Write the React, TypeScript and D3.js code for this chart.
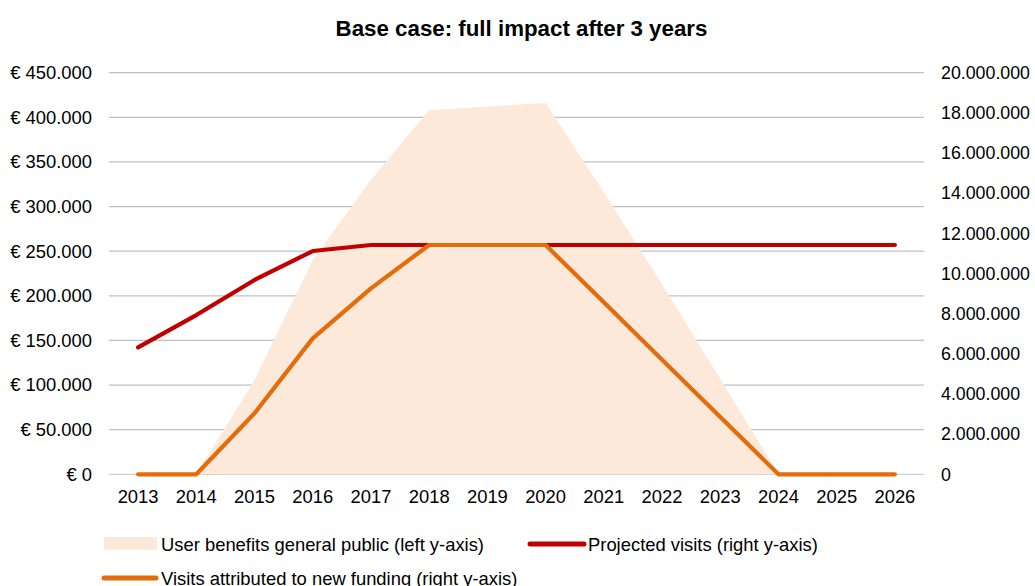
import React from "react";
import * as d3 from "d3";

const years = ["2013","2014","2015","2016","2017","2018","2019","2020","2021","2022","2023","2024","2025","2026"];
const userBenefits = [0, 0, 106000, 240000, 330000, 408000, 412000, 416000, 316000, 213000, 107000, 0, 0, 0];
const projectedVisits = [6320000, 7930000, 9680000, 11120000, 11420000, 11420000, 11420000, 11420000, 11420000, 11420000, 11420000, 11420000, 11420000, 11420000];
const attributedVisits = [0, 0, 3040000, 6770000, 9260000, 11420000, 11420000, 11420000, 8565000, 5710000, 2855000, 0, 0, 0];
const leftTicks = [0, 50000, 100000, 150000, 200000, 250000, 300000, 350000, 400000, 450000];
const rightTicks = [0, 2000000, 4000000, 6000000, 8000000, 10000000, 12000000, 14000000, 16000000, 18000000, 20000000];

const W = 1035, H = 586;
const FONT = "'Liberation Sans', Arial, sans-serif";

const fmt = (v: number) => d3.format(",")(v).replace(/,/g, ".");

export default function App() {
  const x = d3.scaleBand<string>().domain(years).range([109, 924]);
  const cx = (y: string) => (x(y) as number) + x.bandwidth() / 2;
  const yL = d3.scaleLinear().domain([0, 450000]).range([474.3, 72.7]);
  const yR = d3.scaleLinear().domain([0, 20000000]).range([474.3, 72.7]);

  const area = d3.area<number>()
    .x((_, i) => cx(years[i]))
    .y0(yL(0))
    .y1((d) => yL(d));
  const lineR = d3.line<number>()
    .x((_, i) => cx(years[i]))
    .y((d) => yR(d));

  return (
    <svg width={W} height={H} style={{ position: "absolute", left: 0, top: 0 }} fontFamily={FONT}>
      <rect width={W} height={H} fill="#ffffff" />
      <text x={521.5} y={35.5} textAnchor="middle" fontWeight="bold" fontSize={22.3} fill="#000">
        Base case: full impact after 3 years
      </text>
      {leftTicks.map((t) => (
        <g key={"l" + t}>
          <line x1={109} x2={924} y1={yL(t)} y2={yL(t)} stroke={t === 0 ? "#D0D0D0" : "#C0C0C0"} strokeWidth={1.3} />
          <text x={92} y={yL(t)} dy="0.35em" textAnchor="end" fontSize={18.4} fill="#000">
            {"€ " + fmt(t)}
          </text>
        </g>
      ))}
      {rightTicks.map((t) => (
        <text key={"r" + t} x={941} y={yR(t)} dy="0.35em" textAnchor="start" fontSize={17.8} fill="#000">
          {fmt(t)}
        </text>
      ))}
      {years.map((yr) => (
        <text key={yr} x={cx(yr)} y={503} textAnchor="middle" fontSize={18.4} fill="#000">
          {yr}
        </text>
      ))}
      <path d={area(userBenefits) as string} fill="#FDE9DA" />
      <path d={lineR(projectedVisits) as string} fill="none" stroke="#C00000" strokeWidth={4.2} strokeLinecap="round" strokeLinejoin="round" />
      <path d={lineR(attributedVisits) as string} fill="none" stroke="#E46C0A" strokeWidth={4.2} strokeLinecap="round" strokeLinejoin="round" />

      <g fontSize={18.4} fill="#000">
        <rect x={104} y={537} width={53} height={13} fill="#FDE9DA" />
        <text x={161} y={551}>User benefits general public (left y-axis)</text>
        <line x1={530} x2={584} y1={544} y2={544} stroke="#C00000" strokeWidth={5} strokeLinecap="round" />
        <text x={588} y={551}>Projected visits (right y-axis)</text>
        <line x1={104} x2={156} y1={578} y2={578} stroke="#E46C0A" strokeWidth={5} strokeLinecap="round" />
        <text x={161} y={585}>Visits attributed to new funding (right y-axis)</text>
      </g>
    </svg>
  );
}
